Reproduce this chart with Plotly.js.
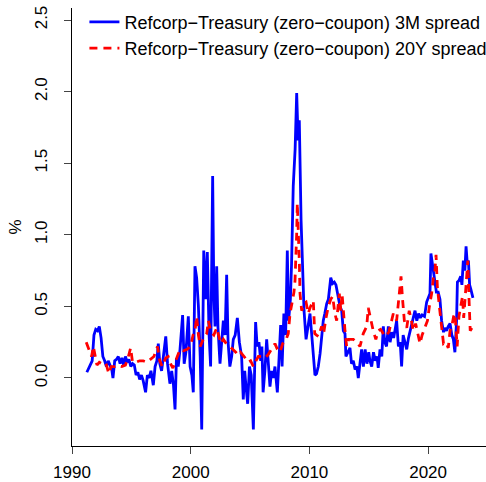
<!DOCTYPE html>
<html>
<head>
<meta charset="utf-8">
<script src="https://cdn.plot.ly/plotly-3.0.1.min.js"></script>
<style>html,body{margin:0;padding:0;background:#fff;}#chart{width:486px;height:482px;}</style>
</head>
<body>
<div id="chart"></div>
<script>
// 3M spread (Refcorp - Treasury, zero-coupon), decimal years and %
const years3M = [
1991.25,1991.4,1991.55,1991.7,1991.85,1992.0,1992.15,1992.3,1992.45,1992.6,1992.75,1992.9,
1993.05,1993.2,1993.35,1993.45,1993.6,1993.75,1993.9,1994.05,1994.2,1994.35,1994.5,1994.65,1994.8,1994.95,
1995.1,1995.25,1995.4,1995.55,1995.7,1995.85,1996.0,1996.2,1996.35,1996.5,1996.65,1996.85,
1997.0,1997.15,1997.27,1997.4,1997.55,1997.7,1997.9,1998.05,1998.25,1998.4,1998.55,1998.68,1998.8,1998.95,
1999.1,1999.32,1999.45,1999.6,1999.8,1999.95,2000.1,2000.22,2000.36,2000.5,2000.65,2000.8,2000.93,
2001.1,2001.25,2001.4,2001.55,2001.68,2001.85,2001.95,2002.05,2002.19,2002.3,2002.47,2002.6,2002.75,2002.9,
2003.03,2003.15,2003.3,2003.45,2003.59,2003.75,2003.93,2004.1,2004.29,2004.43,2004.55,2004.65,2004.8,2004.95,
2005.1,2005.28,2005.47,2005.6,2005.75,2005.9,2006.0,2006.1,2006.25,2006.4,2006.55,2006.68,2006.82,2006.96,
2007.1,2007.3,2007.45,2007.58,2007.7,2007.85,2008.0,2008.14,2008.25,2008.4,2008.5,2008.64,2008.8,2008.93,
2009.05,2009.15,2009.3,2009.42,2009.55,2009.72,2009.88,2010.05,2010.2,2010.35,2010.47,2010.6,2010.75,2010.9,
2011.05,2011.17,2011.3,2011.46,2011.6,2011.8,2011.95,2012.1,2012.24,2012.4,2012.58,2012.72,2012.86,
2013.0,2013.08,2013.25,2013.42,2013.55,2013.7,2013.85,2014.0,2014.12,2014.25,2014.4,2014.55,2014.7,2014.85,
2015.0,2015.1,2015.25,2015.4,2015.55,2015.7,2015.8,2015.95,2016.1,2016.23,2016.35,2016.5,2016.65,2016.8,2016.95,
2017.1,2017.35,2017.5,2017.65,2017.77,2017.9,2018.05,2018.2,2018.35,2018.47,2018.6,2018.75,2018.9,
2019.05,2019.2,2019.35,2019.5,2019.7,2019.88,2020.05,2020.16,2020.24,2020.35,2020.45,2020.58,2020.7,2020.85,
2021.0,2021.14,2021.3,2021.42,2021.55,2021.7,2021.85,2022.0,2022.13,2022.26,2022.4,2022.47,2022.6,2022.75,2022.85,
2022.97,2023.1,2023.2,2023.3,2023.4,2023.5,2023.6,2023.7,2023.78
];
const spread3M = [
0.04,0.07,0.10,0.12,0.30,0.34,0.33,0.36,0.28,0.15,0.12,0.08,
0.12,0.09,0.06,0.00,0.12,0.13,0.15,0.10,0.14,0.09,0.15,0.11,0.13,0.08,
0.10,0.09,0.02,0.04,-0.01,0.02,-0.02,-0.10,0.02,0.00,0.05,-0.05,
0.08,0.12,0.24,0.10,0.05,0.15,0.29,0.10,-0.04,0.05,-0.05,-0.22,0.14,0.08,
0.20,0.44,0.10,0.18,0.43,0.08,0.02,-0.10,0.78,0.70,0.50,0.15,-0.36,
0.89,0.55,0.88,0.30,0.08,1.41,0.60,0.36,0.78,0.35,0.10,0.25,0.40,0.30,
0.72,0.25,0.08,0.15,0.27,0.30,0.42,0.25,0.15,-0.15,0.05,-0.05,-0.18,0.08,
0.02,-0.36,0.39,0.22,0.25,0.12,0.22,-0.10,0.05,0.27,0.05,-0.06,0.05,0.00,
0.08,-0.10,0.15,0.37,0.08,0.45,0.30,0.89,0.40,0.55,0.80,1.34,1.60,1.99,
1.66,1.80,1.10,0.70,0.47,0.27,0.35,0.45,0.30,0.10,0.02,0.03,0.08,0.17,
0.30,0.40,0.45,0.52,0.55,0.70,0.66,0.67,0.65,0.57,0.50,0.47,0.33,
0.31,0.15,0.18,0.21,0.10,0.12,0.06,0.08,0.00,0.10,0.20,0.08,0.20,0.10,
0.18,0.12,0.08,0.18,0.12,0.15,0.07,0.20,0.15,0.36,0.25,0.22,0.36,0.25,0.32,
0.28,0.40,0.22,0.25,0.08,0.30,0.25,0.20,0.28,0.33,0.38,0.42,0.47,
0.40,0.45,0.42,0.44,0.43,0.53,0.56,0.59,0.87,0.80,0.75,0.68,0.60,0.60,
0.55,0.40,0.32,0.35,0.33,0.36,0.38,0.30,0.27,0.18,0.40,0.67,0.68,0.71,0.65,
0.82,0.75,0.92,0.80,0.82,0.65,0.62,0.58,0.56
];
// 20Y spread
const years20Y = [
1991.2,1991.35,1991.5,1991.65,1991.8,1991.95,1992.1,1992.3,1992.5,1992.7,1992.9,
1993.1,1993.3,1993.6,1993.9,1994.2,1994.5,1994.75,1994.94,1995.1,1995.4,1995.7,
1996.0,1996.3,1996.6,1996.9,1997.2,1997.4,1997.6,1997.9,1998.1,1998.3,1998.5,1998.7,1998.9,
1999.1,1999.4,1999.7,1999.99,2000.2,2000.35,2000.5,2000.65,2000.8,2000.95,
2001.1,2001.35,2001.49,2001.7,2001.95,2002.19,2002.35,2002.53,2002.75,
2003.0,2003.3,2003.59,2003.8,2004.01,2004.2,2004.5,2004.85,2005.05,2005.28,2005.5,2005.7,
2006.0,2006.26,2006.5,2006.8,2007.1,2007.3,2007.52,2007.75,2008.0,2008.22,2008.37,2008.55,2008.7,2008.79,2008.87,2008.93,2008.98,
2009.05,2009.15,2009.21,2009.35,2009.55,2009.72,2009.9,2010.1,2010.33,2010.45,2010.6,2010.77,
2011.03,2011.2,2011.4,2011.6,2011.8,2011.96,2012.15,2012.3,2012.52,2012.65,2012.75,2012.85,
2013.0,2013.14,2013.3,2013.42,2013.7,2014.0,2014.26,2014.54,2014.83,2014.96,2015.15,2015.38,2015.6,2015.8,
2016.0,2016.37,2016.7,2017.07,2017.35,2017.63,2017.72,2017.85,2018.0,2018.2,2018.41,2018.6,2018.75,2018.95,
2019.15,2019.32,2019.5,2019.74,2019.95,2020.11,2020.3,2020.45,2020.58,2020.67,2020.78,2020.95,
2021.14,2021.3,2021.5,2021.7,2021.85,2022.0,2022.15,2022.26,2022.35,2022.45,2022.6,2022.75,2022.9,
2023.0,2023.15,2023.25,2023.35,2023.45,2023.55,2023.7
];
const spread20Y = [
0.25,0.22,0.18,0.15,0.22,0.15,0.09,0.11,0.10,0.08,0.09,
0.03,0.08,0.08,0.09,0.08,0.09,0.15,0.21,0.11,0.11,0.12,
0.12,0.11,0.13,0.15,0.22,0.12,0.08,0.14,0.15,0.10,0.07,0.11,0.16,
0.20,0.19,0.20,0.22,0.30,0.32,0.43,0.30,0.22,0.25,
0.28,0.31,0.40,0.32,0.30,0.35,0.30,0.24,0.27,
0.24,0.22,0.20,0.18,0.16,0.18,0.15,0.11,0.12,0.08,0.12,0.15,
0.15,0.14,0.16,0.20,0.24,0.20,0.18,0.24,0.26,0.31,0.45,0.53,0.60,0.68,0.82,1.01,1.22,
1.08,0.82,0.59,0.47,0.52,0.53,0.45,0.50,0.54,0.31,0.30,0.29,
0.36,0.31,0.42,0.50,0.55,0.57,0.45,0.40,0.59,0.47,0.59,0.46,
0.33,0.22,0.27,0.27,0.27,0.25,0.22,0.31,0.36,0.49,0.41,0.33,0.27,0.33,
0.34,0.29,0.32,0.45,0.40,0.61,0.71,0.55,0.40,0.35,0.47,0.40,0.33,0.38,
0.30,0.24,0.30,0.36,0.40,0.50,0.59,0.70,0.75,0.86,0.64,0.50,
0.38,0.24,0.25,0.21,0.33,0.36,0.43,0.45,0.35,0.22,0.43,0.50,0.57,
0.42,0.60,0.75,0.82,0.55,0.33,0.35
];
const seriesNames = ["Refcorp\u2212Treasury (zero\u2212coupon) 3M spread", "Refcorp\u2212Treasury (zero\u2212coupon) 20Y spread"];
const xTicks = [1990, 2000, 2010, 2020];
const yTicks = [0.0, 0.5, 1.0, 1.5, 2.0, 2.5];
const yTickText = ["0.0", "0.5", "1.0", "1.5", "2.0", "2.5"];

const font = {family: "Liberation Sans, Arial, Helvetica, sans-serif", size: 17, color: "#000"};
const legendFont = {family: "Liberation Sans, Arial, Helvetica, sans-serif", size: 18, color: "#000"};

const traces = [
  {x: years3M, y: spread3M, name: seriesNames[0], type: "scatter", mode: "lines",
   line: {color: "#0000ff", width: 2.8}},
  {x: years20Y, y: spread20Y, name: seriesNames[1], type: "scatter", mode: "lines",
   line: {color: "#ff0000", width: 2.8, dash: "8px,6px"}}
];

const layout = {
  width: 486, height: 482,
  margin: {l: 72, r: 0, t: 8, b: 36, pad: 0, autoexpand: false},
  paper_bgcolor: "#fff", plot_bgcolor: "#fff",
  font: font,
  showlegend: true,
  legend: {x: 0.03, y: 1.01, xanchor: "left", yanchor: "top", bgcolor: "rgba(0,0,0,0)",
           font: legendFont, itemwidth: 30, tracegroupgap: 0},
  xaxis: {range: [1990, 2024.88], tickvals: xTicks, ticktext: xTicks.map(String),
          showgrid: false, zeroline: false, showline: true, linecolor: "#000", linewidth: 1,
          ticks: "outside", ticklen: 7, tickcolor: "#444", tickwidth: 1, tickfont: font,
          ticklabelstandoff: 4, automargin: false},
  yaxis: {range: [-0.475, 2.584], tickvals: yTicks, ticktext: yTickText,
          showgrid: false, zeroline: false, showline: true, linecolor: "#000", linewidth: 1,
          ticks: "outside", ticklen: 7, tickcolor: "#444", tickwidth: 1, tickfont: font,
          tickangle: -90, ticklabelstandoff: 10, automargin: false,
          title: {text: "%", font: font, standoff: 6}}
};

Plotly.newPlot("chart", traces, layout, {displayModeBar: false, staticPlot: true});
</script>
</body>
</html>
